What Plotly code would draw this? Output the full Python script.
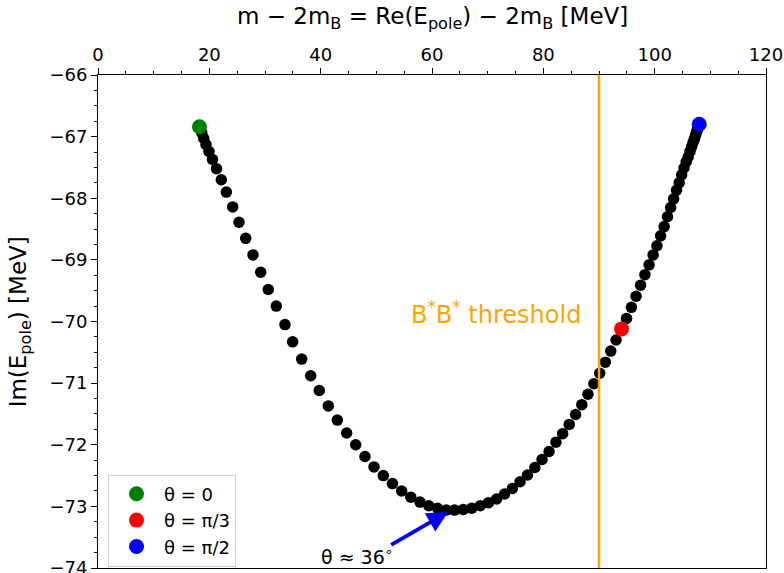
import plotly.graph_objects as go

# Pole trajectory, theta = 0 .. 90 degrees
x_re = [18.23, 18.38, 18.65, 19.00, 19.40, 19.94, 20.57, 21.29, 22.15, 23.05,
        24.20, 25.33, 26.53, 27.84, 29.23, 30.59, 32.03, 33.59, 34.97, 36.59,
        38.21, 39.75, 41.37, 42.99, 44.67, 46.29, 47.96, 49.58, 51.25, 52.90,
        54.55, 56.19, 57.84, 59.42, 60.98, 62.57, 64.04,
        65.61, 67.15, 68.67, 70.15, 71.61, 73.04, 74.44, 75.82, 77.16, 78.48,
        79.77, 81.03, 82.27, 83.47, 84.65, 85.80, 86.92, 88.02, 89.08, 90.12,
        91.13, 92.11, 93.07, 94.05,
        94.95, 95.82, 96.66, 97.47, 98.25, 99.00, 99.72, 100.41, 101.07, 101.70,
        102.30, 102.87, 103.41, 103.92, 104.40, 104.85, 105.27, 105.66, 106.02,
        106.35, 106.65, 106.92, 107.16, 107.37, 107.55, 107.70, 107.82, 107.91,
        107.97, 108.00]
y_im = [-66.84, -66.88, -66.94, -67.03, -67.13, -67.24, -67.37, -67.52, -67.70, -67.90,
        -68.14, -68.39, -68.65, -68.92, -69.20, -69.48, -69.75, -70.05, -70.33, -70.61,
        -70.88, -71.12, -71.37, -71.60, -71.81, -72.00, -72.19, -72.36, -72.50, -72.63,
        -72.75, -72.85, -72.93, -72.99, -73.03, -73.06, -73.06,
        -73.05, -73.03, -72.99, -72.94, -72.88, -72.80, -72.71, -72.60, -72.49, -72.37,
        -72.24, -72.11, -71.96, -71.82, -71.67, -71.51, -71.35, -71.18, -71.01, -70.84,
        -70.66, -70.48, -70.30, -70.12,
        -69.95, -69.77, -69.59, -69.41, -69.24, -69.08, -68.92, -68.77, -68.61, -68.46,
        -68.30, -68.15, -68.01, -67.87, -67.75, -67.62, -67.51, -67.41, -67.33,
        -67.24, -67.16, -67.09, -67.03, -66.97, -66.92, -66.88, -66.85, -66.83,
        -66.81, -66.80]

special_names = ["θ = 0", "θ = π/3", "θ = π/2"]
special_idx = [0, 60, 90]
special_colors = ["green", "red", "blue"]

threshold_x = 90.0
arrow_tip = (62.9, -73.09)
arrow_tail = (52.4, -73.64)
arrow_label = "θ ≈ 36<sup>∘</sup>"
threshold_label = "B<sup>*</sup>B<sup>*</sup> threshold"
x_title = "m − 2m<sub>B</sub> = Re(E<sub>pole</sub>) − 2m<sub>B</sub> [MeV]"
y_title = "Im(E<sub>pole</sub>) [MeV]"

FONT = "DejaVu Sans"

fig = go.Figure()
fig.add_trace(go.Scatter(x=x_re, y=y_im, mode="markers",
                         marker=dict(color="black", size=11.5),
                         showlegend=False, hoverinfo="skip"))
for name, i, c in zip(special_names, special_idx, special_colors):
    fig.add_trace(go.Scatter(x=[x_re[i]], y=[y_im[i]], mode="markers", name=name,
                             marker=dict(color=c, size=15)))

fig.add_shape(type="line", xref="x", yref="paper", x0=threshold_x, x1=threshold_x,
              y0=0, y1=1, line=dict(color="orange", width=2.5), layer="above")

fig.add_annotation(x=71.5, y=-69.86, xref="x", yref="y", text=threshold_label,
                   showarrow=False, font=dict(family=FONT, size=24, color="orange"))
fig.add_annotation(x=arrow_tip[0], y=arrow_tip[1], ax=arrow_tail[0], ay=arrow_tail[1],
                   xref="x", yref="y", axref="x", ayref="y", text="",
                   showarrow=True, arrowhead=2, arrowsize=1.1, arrowwidth=3.8,
                   arrowcolor="blue", standoff=0, startstandoff=0)
fig.add_annotation(x=46.6, y=-73.80, xref="x", yref="y", text=arrow_label,
                   showarrow=False, font=dict(family=FONT, size=19, color="black"))

# axis titles
fig.add_annotation(x=0.5, y=1.115, xref="paper", yref="paper", text=x_title,
                   showarrow=False, xanchor="center", yanchor="middle",
                   font=dict(family=FONT, size=23, color="black"))
fig.add_annotation(x=-0.117, y=0.5, xref="paper", yref="paper", text=y_title,
                   showarrow=False, xanchor="center", yanchor="middle", textangle=-90,
                   font=dict(family=FONT, size=23, color="black"))

axis_common = dict(showline=True, linecolor="black", linewidth=1, mirror=True,
                   showgrid=False, zeroline=False, ticks="outside", ticklen=6,
                   tickwidth=1, tickcolor="black", automargin=False,
                   ticklabeloverflow="allow",
                   tickfont=dict(family=FONT, size=18, color="black"))

fig.update_xaxes(range=[0, 120], side="top", dtick=20, tick0=0,
                 minor=dict(dtick=5, ticks="outside", ticklen=3.5, tickcolor="black"),
                 **axis_common)
fig.update_yaxes(range=[-74, -66], dtick=1, tick0=-74,
                 minor=dict(dtick=0.25, ticks="outside", ticklen=3.5, tickcolor="black"),
                 **axis_common)

fig.update_layout(
    width=784, height=573,
    margin=dict(l=98, r=18, t=75, b=5),
    paper_bgcolor="white", plot_bgcolor="white",
    font=dict(family=FONT, color="black"),
    legend=dict(x=0.015, y=0.003, xanchor="left", yanchor="bottom",
                bgcolor="white", bordercolor="#cccccc", borderwidth=1,
                itemwidth=45,
                font=dict(family=FONT, size=18, color="black")),
)

fig.write_html("out.html",
               config={"displayModeBar": False},
               post_script="document.body.style.margin='0px';"
                           "document.body.style.padding='0px';"
                           "document.body.style.overflow='hidden';")
